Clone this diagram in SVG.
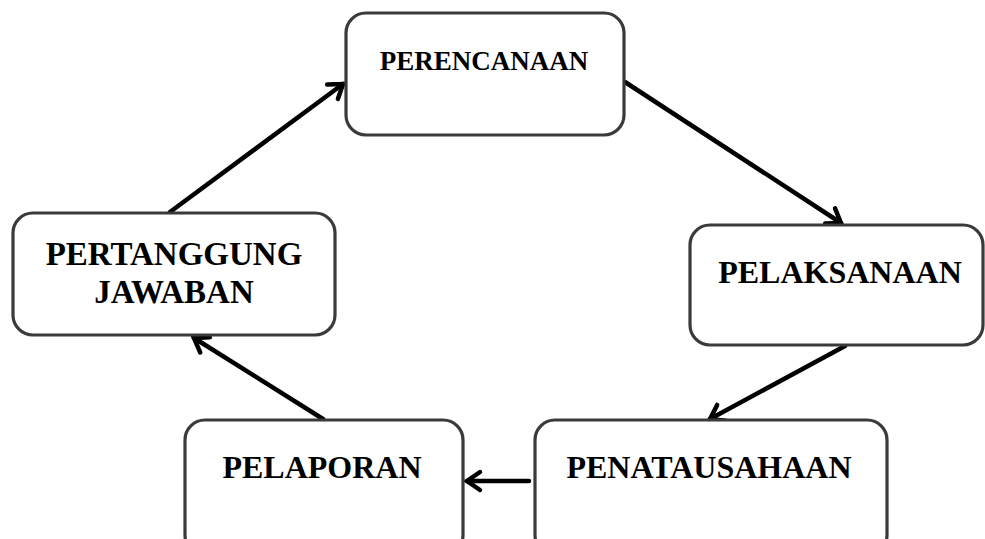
<svg xmlns="http://www.w3.org/2000/svg" width="985" height="539" viewBox="0 0 985 539">
  <defs>
    <style>
      .box { fill: #ffffff; stroke: #3a3a3a; stroke-width: 3.2; }
      .lbl { font-family: "Liberation Serif", "Times New Roman", serif; font-weight: bold; font-size: 32px; fill: #000000; text-anchor: middle; }
      .edge { stroke: #000000; stroke-width: 4.5; fill: none; stroke-linecap: round; }
    </style>
    <marker id="chev" markerUnits="userSpaceOnUse" markerWidth="30" markerHeight="30" viewBox="-20 -15 30 30" refX="0" refY="0" orient="auto">
      <path d="M-13,-9 L0,0 L-13,9" fill="none" stroke="#000000" stroke-width="4.5" stroke-linecap="round" stroke-linejoin="miter"/>
    </marker>
  </defs>

  <rect width="985" height="539" fill="#ffffff"/>

  <!-- connectors -->
  <g id="connectors">
    <line class="edge" x1="170" y1="212" x2="343" y2="84" marker-end="url(#chev)"/>
    <line class="edge" x1="625" y1="82" x2="841" y2="223" marker-end="url(#chev)"/>
    <line class="edge" x1="845" y1="346" x2="710" y2="419" marker-end="url(#chev)"/>
    <line class="edge" x1="529" y1="481" x2="467" y2="481" marker-end="url(#chev)"/>
    <line class="edge" x1="323" y1="419" x2="194" y2="338" marker-end="url(#chev)"/>
  </g>

  <!-- nodes -->
  <g id="perencanaan">
    <rect class="box" x="346" y="13" width="278" height="122" rx="20"/>
    <text class="lbl" x="484" y="70" style="font-size:27px">PERENCANAAN</text>
  </g>

  <g id="pelaksanaan">
    <rect class="box" x="690" y="225" width="293" height="120" rx="20"/>
    <text class="lbl" x="840" y="283">PELAKSANAAN</text>
  </g>

  <g id="penatausahaan">
    <rect class="box" x="535" y="420" width="352" height="135" rx="20"/>
    <text class="lbl" x="709" y="478">PENATAUSAHAAN</text>
  </g>

  <g id="pelaporan">
    <rect class="box" x="185" y="420" width="278" height="135" rx="20"/>
    <text class="lbl" x="322" y="478">PELAPORAN</text>
  </g>

  <g id="pertanggungjawaban">
    <rect class="box" x="13" y="213" width="322" height="122" rx="20"/>
    <text class="lbl" x="174" y="265" style="font-size:33px">PERTANGGUNG</text>
    <text class="lbl" x="174" y="303" style="font-size:33px">JAWABAN</text>
  </g>
</svg>
